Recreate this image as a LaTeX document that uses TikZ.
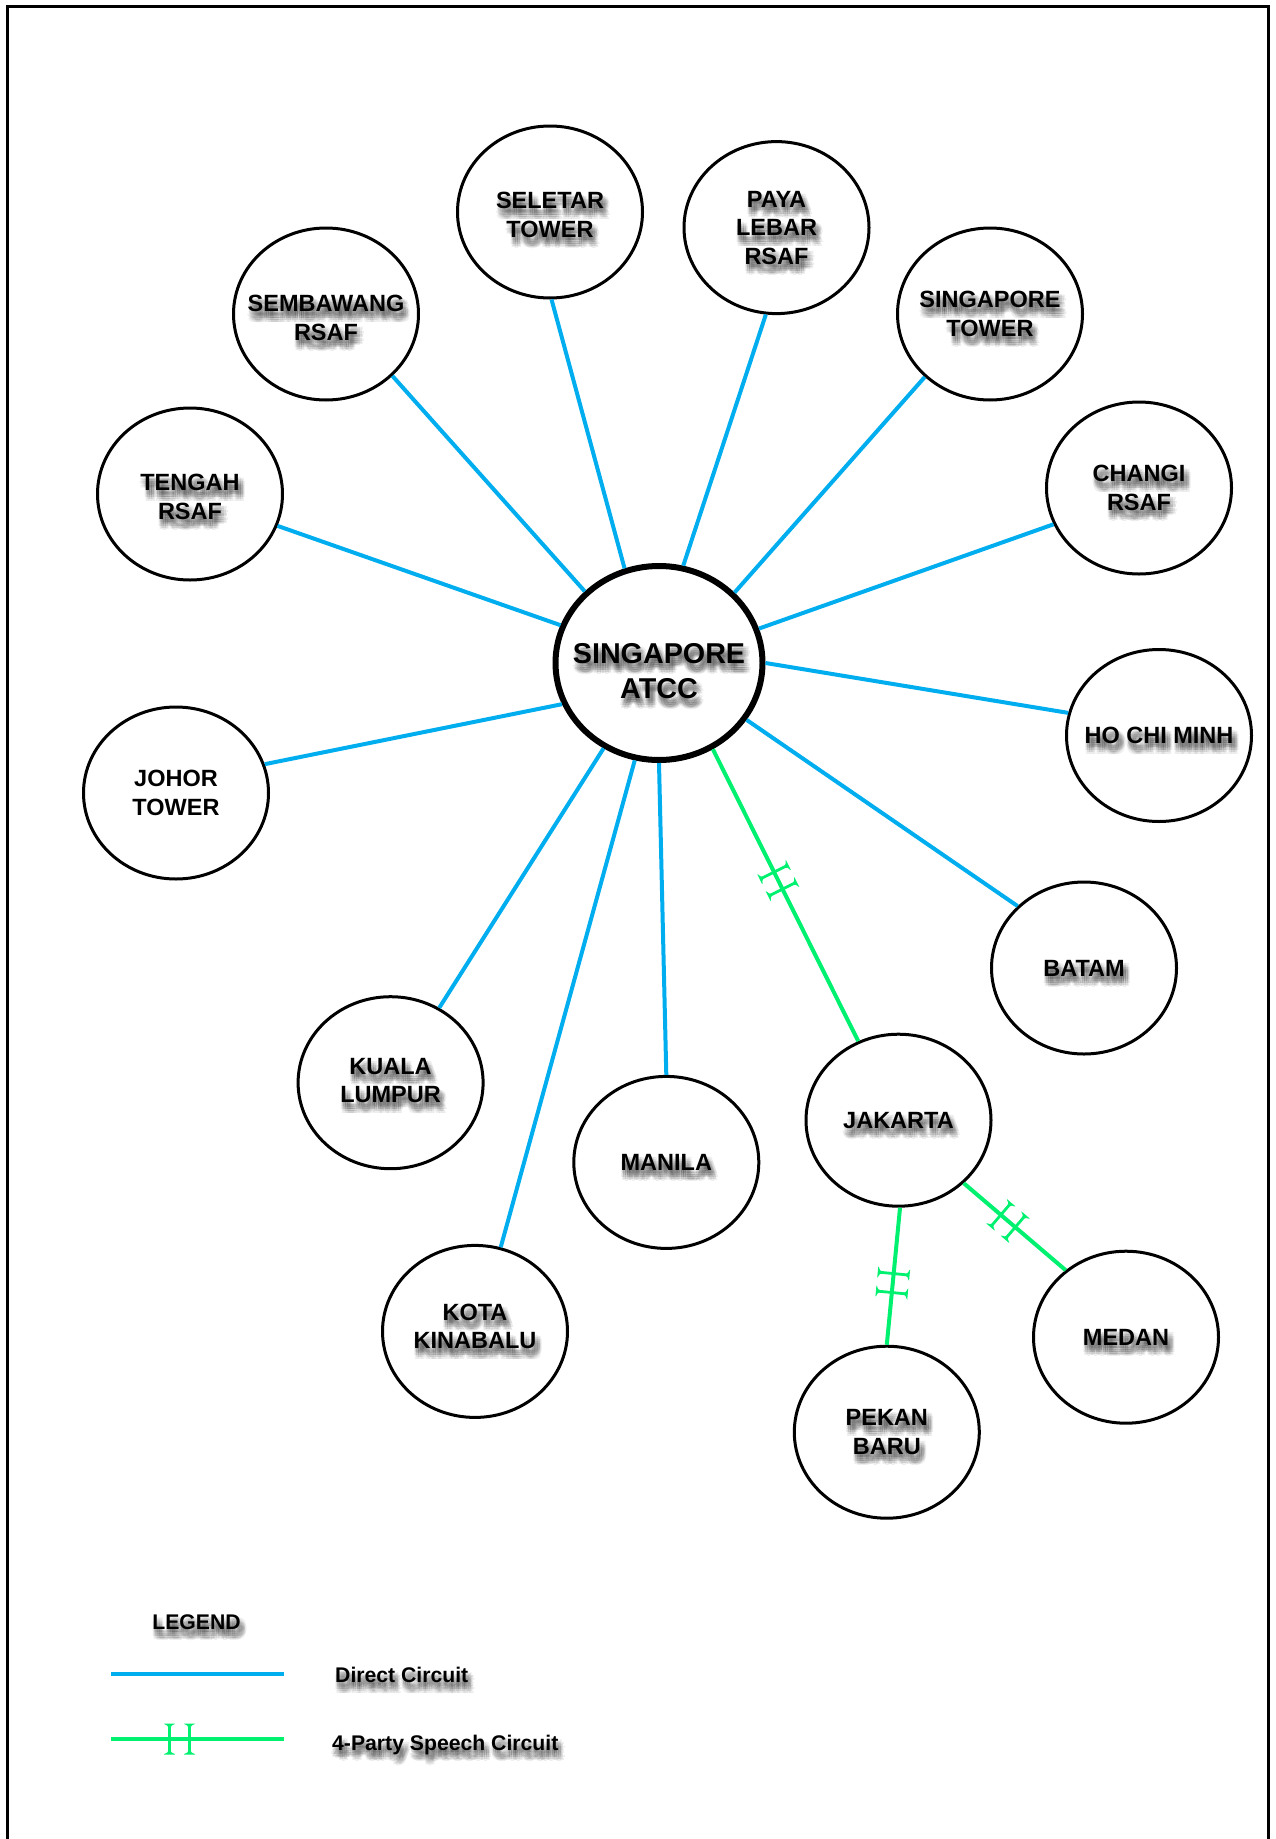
\documentclass[tikz,border=0pt]{standalone}
\usepackage{fontspec}
\setmainfont{Liberation Sans}
\usetikzlibrary{shapes.geometric,decorations.markings}
\definecolor{dircol}{RGB}{0,174,239}
\definecolor{spkcol}{RGB}{0,240,112}
\newcommand\lblfont{\bfseries\fontsize{23.5}{28.5}\selectfont}
\newcommand\bigfont{\bfseries\fontsize{28.7}{35}\selectfont}
\newcommand\legfont{\bfseries\fontsize{21.2}{25}\selectfont}
% serif "I" shape centred at x=#1, half height #2
\newcommand\Ishape[2]{(#1-1.4,-#2+3.5) .. controls (#1-1.4,-#2+1.2) and (#1-5.5,-#2+1.2) .. (#1-5.5,-#2) -- (#1+5.5,-#2) .. controls (#1+5.5,-#2+1.2) and (#1+1.4,-#2+1.2) .. (#1+1.4,-#2+3.5) -- (#1+1.4,#2-3.5) .. controls (#1+1.4,#2-1.2) and (#1+5.5,#2-1.2) .. (#1+5.5,#2) -- (#1-5.5,#2) .. controls (#1-5.5,#2-1.2) and (#1-1.4,#2-1.2) .. (#1-1.4,#2-3.5) -- cycle}
\newcommand\hglyph[2]{\fill[spkcol] \Ishape{-#1}{#2}; \fill[spkcol] \Ishape{#1}{#2};}
\tikzset{
  x=1pt, y=-1pt,
  stn/.style={ellipse, draw=black, line width=3, minimum width=185, minimum height=172, inner sep=0pt},
  hub/.style={ellipse, draw=black, line width=6, minimum width=207, minimum height=194, inner sep=0pt},
  lbl/.style={font=\lblfont, align=center, inner sep=0pt, text=black},
  shd/.style={text=black, text opacity=0.065},
  direct/.style={draw=dircol, line width=4},
  speech/.style={draw=spkcol, line width=4},
  hmark/.style={postaction={decorate, decoration={markings, mark=at position #1 with {\hglyph{9.5}{16}}}}},
  frame/.style={draw=black, line width=3},
}
\newcommand\shlabel[4][]{%
  \foreach \sx/\sy [count=\k] in {3/7,1/5,3/5,5/5,1/7,5/7,1/9,3/9,5/9,0/3.5,6/3.5,0/10.5,6/10.5,-1/7,7/7,3/3,3/11}
    {\node[lbl,shd,#1] (#2-s\k) at ([shift={(\sx,\sy)}]#3) {#4};}
  \node[lbl,#1] (#2) at (#3) {#4};
}
\newcommand\station[4][]{%
  \node[stn] (#2) at (#3) {};
  \shlabel[#1]{#2-t}{#2}{#4}
}
\begin{document}
\begin{tikzpicture}
\useasboundingbox (0,0) rectangle (1275,1839);
\draw[frame] (7.5,1850) -- (7.5,6.5) -- (1268,6.5) -- (1268,1850);

% hub
\node[hub] (atcc) at (659,663) {};
\shlabel[font=\bigfont, yshift=-8]{atcc-t}{atcc}{SINGAPORE\\ATCC}

% stations
\station[yshift=-3]{seletar}{550,212}{SELETAR\\TOWER}
\station{paya}{776.5,227.6}{PAYA\\LEBAR\\RSAF}
\station[yshift=-4]{sembawang}{326,314}{SEMBAWANG\\RSAF}
\station{sgtower}{990,314}{SINGAPORE\\TOWER}
\station[yshift=-3]{tengah}{190,494}{TENGAH\\RSAF}
\station{changi}{1139,488}{CHANGI\\RSAF}
\node[stn] (johor) at (176,793) {};
\node[lbl] (johor-t) at (johor) {JOHOR\\TOWER};
\station{hcm}{1159,735.5}{HO CHI MINH}
\station{batam}{1084,968}{BATAM}
\station[yshift=2]{kl}{390.6,1082.7}{KUALA\\LUMPUR}
\station{manila}{666.3,1162.4}{MANILA}
\station{jakarta}{898.5,1120.2}{JAKARTA}
\station[yshift=5]{kk}{475,1331.4}{KOTA\\KINABALU}
\station{medan}{1126,1337.2}{MEDAN}
\station{pekan}{886.8,1432.2}{PEKAN\\BARU}

% direct circuits
\draw[direct] (tengah.-20.3) -- (atcc.159.6);
\draw[direct] (sembawang.-43.5) -- (atcc.136.8);
\draw[direct] (seletar.-89.2) -- (atcc.110.6);
\draw[direct] (paya.-97.7) -- (atcc.76.1);
\draw[direct] (sgtower.-136.5) -- (atcc.43.2);
\draw[direct] (changi.-157) -- (atcc.19);
\draw[direct] (hcm.166) -- (atcc.-0.6);
\draw[direct] (batam.137.6) -- (atcc.-33.9);
\draw[direct] (manila.90.8) -- (atcc.-90);
\draw[direct] (kk.73.2) -- (atcc.-104.5);
\draw[direct] (kl.57) -- (atcc.-123.3);
\draw[direct] (johor.18.4) -- (atcc.-157.3);

% 4-party speech circuits
\draw[speech, hmark=0.45] (atcc.-58) -- (jakarta.117.5);
\draw[speech, hmark=0.55] (jakarta.-89.2) -- (pekan.90);
\draw[speech, hmark=0.435] (jakarta.-44) -- (medan.132.4);

% legend
\coordinate (legtitle) at (196.5,1629);
\shlabel[font=\legfont, anchor=base]{legend}{legtitle}{LEGEND}
\coordinate (d1) at (111,1674);
\coordinate (d2) at (283.5,1674);
\draw[direct] (d1) -- (d2);
\coordinate (dtext) at (335,1682.5);
\shlabel[font=\legfont, anchor=base west]{dlabel}{dtext}{Direct Circuit}
\coordinate (s1) at (111,1739);
\coordinate (s2) at (283.5,1739);
\draw[speech] (s1) -- (s2);
\begin{scope}[shift={(179.5,1739)}]
  \fill[spkcol] \Ishape{-10}{15.5};
  \fill[spkcol] \Ishape{10}{15.5};
\end{scope}
\coordinate (stext) at (332,1750);
\shlabel[font=\legfont, anchor=base west]{slabel}{stext}{4-Party Speech Circuit}
\end{tikzpicture}
\end{document}
